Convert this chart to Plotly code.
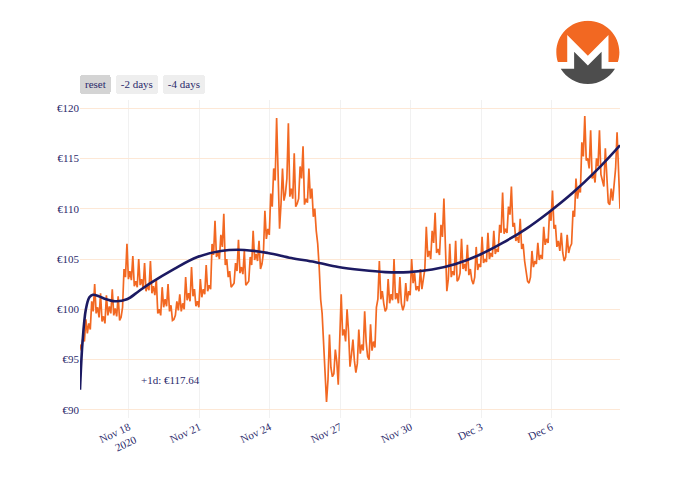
import base64
import pandas as pd
import plotly.graph_objects as go

# ---- data ----
price_start = "2020-11-15 22:00"
price_step_minutes = 90
price_eur = [
    96.5, 95.9, 97.2, 96.8, 99.0, 97.6, 98.6, 98.0, 100.8, 99.8, 102.5, 99.6, 100.2, 99.2, 101.6, 98.8, 99.3, 98.6, 101.4, 99.4,
    100.3, 99.6, 102.0, 99.4, 100.1, 99.3, 101.3, 98.9, 99.2, 100.2, 104.0, 103.2, 106.5, 103.0, 103.8, 102.9, 105.3, 102.3, 102.8, 102.2,
    105.0, 102.4, 103.0, 102.1, 104.6, 101.8, 102.4, 101.9, 104.8, 101.6, 102.3, 101.4, 103.0, 99.6, 100.0, 99.4, 102.2, 100.2, 101.0, 100.3,
    102.5, 99.8, 100.4, 98.9, 99.0, 99.4, 100.8, 99.9, 101.5, 99.8, 100.6, 100.0, 103.2, 100.9, 101.6, 100.8, 104.2, 101.3, 102.0, 100.3,
    100.8, 100.2, 103.0, 101.2, 102.0, 101.5, 104.4, 101.8, 102.4, 102.0, 106.5, 105.4, 108.8, 105.2, 105.8, 105.0, 107.4, 106.2, 109.5, 104.4,
    105.0, 103.2, 103.8, 102.2, 102.4, 102.6, 104.6, 103.8, 106.9, 103.6, 104.2, 103.5, 105.8, 102.4, 102.6, 102.8, 105.2, 104.4, 107.8, 104.9,
    105.5, 104.8, 106.8, 104.0, 104.5, 105.6, 109.8, 107.0, 108.0, 107.4, 111.5, 110.2, 114.0, 112.8, 119.0, 112.0, 108.0, 110.5, 114.0, 110.8,
    111.5, 113.0, 118.5, 111.2, 112.0, 111.0, 115.5, 110.2, 110.5, 111.0, 114.2, 113.0, 116.2, 110.4, 111.0, 110.6, 114.0, 111.0, 112.0, 109.2,
    110.0, 107.8, 106.5, 104.2, 101.0, 99.6, 97.0, 94.0, 90.8, 93.0, 97.5, 94.2, 93.3, 93.6, 96.0, 94.8, 92.5, 97.0, 101.5, 97.4,
    98.0, 96.8, 100.0, 97.8, 94.3, 95.5, 97.0, 94.9, 93.7, 94.6, 98.0, 95.6, 96.5, 95.9, 99.8, 96.8, 95.3, 95.0, 98.5, 95.9,
    96.8, 96.2, 100.2, 101.0, 104.8, 101.0, 101.8, 100.6, 99.8, 100.1, 103.0, 100.6, 101.5, 100.9, 105.0, 101.0, 101.6, 100.6, 103.2, 100.6,
    99.9, 100.4, 102.6, 100.8, 101.8, 101.4, 105.0, 102.6, 103.6, 101.9, 102.3, 101.8, 104.0, 102.0, 102.8, 104.0, 108.2, 105.2, 105.8, 105.0,
    107.8, 106.6, 109.6, 105.6, 106.0, 105.4, 108.4, 107.2, 111.0, 106.0, 101.8, 103.0, 106.5, 103.2, 103.8, 103.4, 106.8, 102.8, 103.0, 103.6,
    107.0, 104.0, 104.5, 103.8, 106.4, 103.4, 104.0, 102.9, 102.5, 103.2, 106.2, 103.9, 104.5, 104.2, 107.2, 104.6, 105.0, 104.7, 107.6, 105.0,
    105.6, 105.2, 107.8, 105.5, 106.0, 105.7, 108.4, 107.6, 111.6, 107.5, 108.0, 107.6, 110.2, 109.4, 112.2, 108.2, 108.6, 106.8, 107.2, 106.6,
    109.0, 106.0, 106.5, 104.8, 104.0, 102.8, 102.6, 103.2, 105.8, 104.2, 104.8, 104.5, 106.6, 104.9, 105.4, 105.0, 108.2, 106.4, 107.0, 106.6,
    109.8, 108.8, 111.8, 108.0, 108.4, 106.2, 106.8, 105.8, 107.6, 105.6, 104.8, 105.2, 107.4, 105.6, 106.2, 106.5, 109.8, 109.2, 113.0, 111.0,
    112.0, 111.6, 116.6, 115.2, 119.2, 114.8, 115.0, 114.0, 117.8, 113.0, 113.5, 112.6, 115.0, 114.2, 117.8, 113.4, 112.8, 112.2, 116.0, 112.4,
    110.6, 110.4, 112.0, 110.8, 112.5, 114.0, 117.6, 113.0, 110.0,
]

trend_days = [0, 0.1, 0.25, 0.4, 0.55, 0.8, 1, 1.5, 2, 2.5, 3, 4, 5, 6, 7, 8, 9,
              10, 11, 12, 13, 14, 15, 16, 17, 18, 19, 20, 21, 22, 23]
trend_eur = [92.0, 96.5, 100.0, 101.2, 101.45, 101.3, 101.1, 100.8, 101.0, 101.8,
             102.6, 104.0, 105.2, 105.8, 105.9, 105.6, 105.1, 104.7, 104.2, 103.9,
             103.7, 103.7, 103.95, 104.5, 105.4, 106.6, 108.0, 109.7, 111.6, 113.8, 116.3]

y_ticks = [90, 95, 100, 105, 110, 115, 120]
y_tick_labels = ["€90", "€95", "€100", "€105", "€110", "€115", "€120"]
forecast_label = "+1d: €117.64"
forecast_label_at = ("2020-11-18 10:00", 93.0)

# ---- build ----
t0 = pd.Timestamp(price_start)
price_time = [t0 + pd.Timedelta(minutes=price_step_minutes * i) for i in range(len(price_eur))]
trend_time = [t0 + pd.Timedelta(days=d) for d in trend_days]

NAVY = "#1c1a62"
ORANGE = "#f26822"
TEXT = "#2b2a6b"
FONT = "Liberation Serif"

logo_svg = """<svg xmlns='http://www.w3.org/2000/svg' viewBox='-10 -10 3860 3870'>
<path fill='#f26822' d='M1919.19 0C859.49 0 -1.45 860.5 0.22 1919.16C0.35 2129 32.3 2330 94.41 2518.36H664.58V874.14L1919.19 2129.04L3173.79 874.14V2518.36H3744C3806 2330 3838 2129 3838.38 1919.16C3838.4 859.3 2979.1 0 1919.19 0Z'/>
<path fill='#4d4d4d' d='M1632.17 2445.6L1083.85 1897.25V2920.56H664.58L269.08 2920.63C608.31 3477.15 1221.48 3849.6 1919.19 3849.6S3230.1 3477.06 3569.38 2920.52H2754.6V1897.25L2206.19 2445.6L1919.15 2732.64Z'/>
</svg>"""
logo_uri = "data:image/svg+xml;base64," + base64.b64encode(logo_svg.encode()).decode()

fig = go.Figure()
fig.add_trace(go.Scatter(x=price_time, y=price_eur, mode="lines",
                         line=dict(color=ORANGE, width=1.7), name="price"))
fig.add_trace(go.Scatter(x=trend_time, y=trend_eur, mode="lines",
                         line=dict(color=NAVY, width=2.6, shape="spline"), name="trend"))

fig.add_annotation(x=forecast_label_at[0], y=forecast_label_at[1], text=forecast_label,
                   showarrow=False, xanchor="left", yanchor="middle",
                   font=dict(family=FONT, size=11, color=TEXT))

fig.add_layout_image(dict(source=logo_uri, xref="paper", yref="paper",
                          x=0.881, y=1.25, sizex=0.119, sizey=0.2, xanchor="left", yanchor="top",
                          sizing="contain", layer="above"))

fig.update_layout(
    width=700, height=500,
    margin=dict(l=72, r=88, t=92, b=90),
    paper_bgcolor="white", plot_bgcolor="white",
    showlegend=False,
    font=dict(family=FONT, size=11, color=TEXT),
    xaxis=dict(
        type="date",
        showgrid=True, gridcolor="#f1f1f1", zeroline=False,
        tick0="2020-11-18", dtick=3 * 86400000, tickangle=-25,
        showline=False,
        tickfont=dict(family=FONT, size=11, color=TEXT),
        rangeselector=dict(
            buttons=[
                dict(step="all", label="reset"),
                dict(count=2, step="day", stepmode="backward", label="-2 days"),
                dict(count=4, step="day", stepmode="backward", label="-4 days"),
            ],
            bgcolor="#eeeeee", activecolor="#d4d4d4",
            font=dict(family=FONT, size=11, color=TEXT),
            x=0, y=1.019,
        ),
    ),
    yaxis=dict(
        range=[89.2, 120.8],
        tickmode="array", tickvals=y_ticks, ticktext=y_tick_labels,
        tickfont=dict(family=FONT, size=11, color=TEXT),
        showgrid=True, gridcolor="#fde8d6", zeroline=False,
        showline=False,
    ),
)

fig.write_html("out.html")
